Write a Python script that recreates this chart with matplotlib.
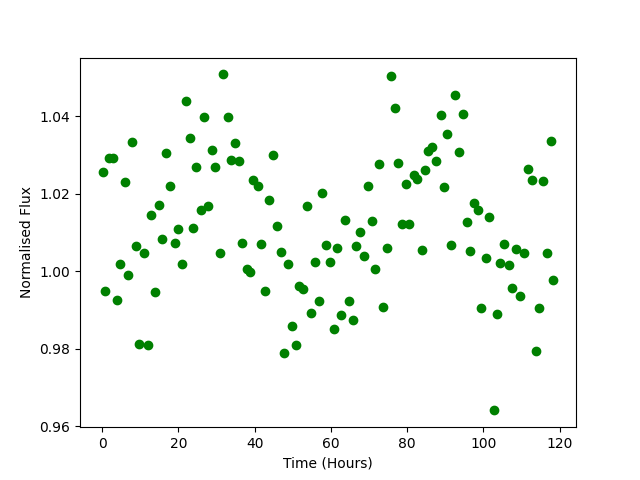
import matplotlib
matplotlib.use('Agg')
import matplotlib.pyplot as plt

# data
time_h = [0.1, 0.8, 1.8, 2.9, 4.0, 4.7, 5.9, 6.8, 7.9, 9.0,
          9.7, 10.9, 11.9, 12.9, 13.9, 14.8, 15.8, 16.8, 17.9, 19.0,
          19.8, 20.9, 21.9, 23.0, 23.8, 24.7, 25.9, 26.8, 27.8, 28.7,
          29.7, 30.9, 31.8, 33.0, 33.7, 34.8, 35.9, 36.8, 38.0, 38.8,
          39.6, 40.8, 41.8, 42.7, 43.7, 44.8, 45.8, 46.8, 47.7, 48.7,
          49.8, 50.8, 51.7, 52.7, 53.7, 54.8, 55.8, 56.8, 57.6, 58.7,
          59.8, 60.8, 61.7, 62.7, 63.7, 64.8, 65.8, 66.7, 67.6, 68.8,
          69.7, 70.8, 71.7, 72.6, 73.8, 74.7, 75.8, 76.7, 77.6, 78.7,
          79.7, 80.6, 81.7, 82.7, 83.8, 84.7, 85.5, 86.6, 87.6, 88.8,
          89.8, 90.6, 91.6, 92.6, 93.7, 94.7, 95.6, 96.6, 97.5, 98.7,
          99.5, 100.6, 101.6, 102.7, 103.7, 104.5, 105.5, 106.7, 107.6, 108.7,
          109.5, 110.6, 111.6, 112.7, 113.7, 114.5, 115.6, 116.6, 117.7, 118.4]

flux = [1.0256, 0.9948, 1.0291, 1.0291, 0.9925, 1.0018, 1.0231, 0.9991, 1.0333, 1.0065,
        0.9813, 1.0046, 0.9811, 1.0144, 0.9946, 1.0172, 1.0082, 1.0306, 1.0219, 1.0074,
        1.0108, 1.0018, 1.0440, 1.0345, 1.0111, 1.0270, 1.0159, 1.0398, 1.0168, 1.0314,
        1.0270, 1.0048, 1.0508, 1.0397, 1.0286, 1.0330, 1.0284, 1.0074, 1.0006, 0.9997,
        1.0235, 1.0219, 1.0070, 0.9948, 1.0183, 1.0301, 1.0118, 1.0051, 0.9788, 1.0020,
        0.9860, 0.9811, 0.9962, 0.9953, 1.0168, 0.9893, 1.0025, 0.9923, 1.0203, 1.0067,
        1.0023, 0.9850, 1.0059, 0.9888, 1.0133, 0.9923, 0.9874, 1.0065, 1.0102, 1.0039,
        1.0221, 1.0131, 1.0007, 1.0278, 0.9909, 1.0059, 1.0503, 1.0422, 1.0280, 1.0121,
        1.0226, 1.0121, 1.0248, 1.0237, 1.0056, 1.0261, 1.0310, 1.0321, 1.0284, 1.0404,
        1.0217, 1.0355, 1.0067, 1.0456, 1.0309, 1.0407, 1.0128, 1.0053, 1.0175, 1.0157,
        0.9905, 1.0035, 1.0139, 0.9641, 0.9891, 1.0021, 1.0070, 1.0015, 0.9956, 1.0057,
        0.9935, 1.0046, 1.0265, 1.0235, 0.9793, 0.9905, 1.0232, 1.0048, 1.0337, 0.9977]

plt.figure(figsize=(6.4, 4.8), dpi=100)
plt.plot(time_h, flux, 'o', color='green')
plt.xlabel('Time (Hours)')
plt.ylabel('Normalised Flux')
plt.savefig('out.png')
